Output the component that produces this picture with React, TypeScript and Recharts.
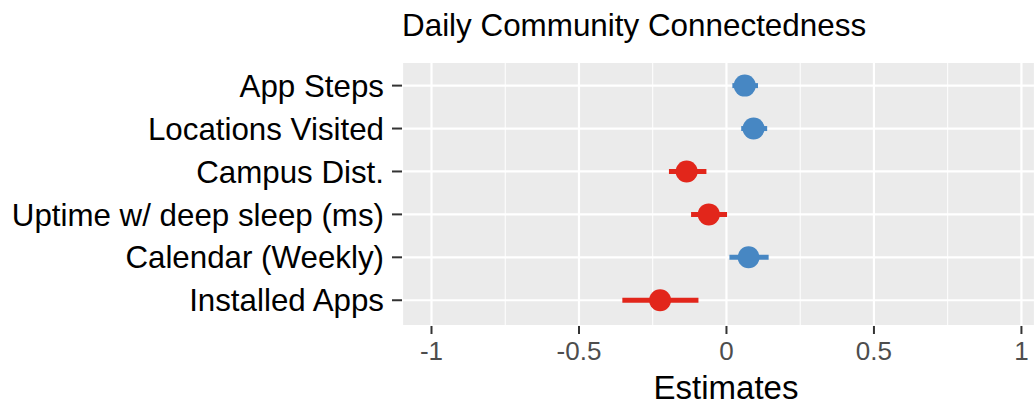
import { ScatterChart, Scatter, XAxis, YAxis, CartesianGrid, ErrorBar } from 'recharts';

const categories = [
  'App Steps',
  'Locations Visited',
  'Campus Dist.',
  'Uptime w/ deep sleep (ms)',
  'Calendar (Weekly)',
  'Installed Apps',
];
const estimates = [0.062, 0.092, -0.135, -0.06, 0.075, -0.225];
const lower = [0.02, 0.05, -0.195, -0.12, 0.01, -0.353];
const upper = [0.107, 0.138, -0.068, 0.002, 0.143, -0.095];

const majorTicks = [-1, -0.5, 0, 0.5, 1];
const minorTicks = [-0.75, -0.25, 0.25, 0.75];

const RED = '#e2261b';
const BLUE = '#4787c3';
const FONT = '"Liberation Sans", Arial, Helvetica, sans-serif';

const rows = categories.map((name, i) => ({
  name,
  x: estimates[i],
  y: i,
  err: [estimates[i] - lower[i], upper[i] - estimates[i]],
}));
const positive = rows.filter((r) => r.x >= 0);
const negative = rows.filter((r) => r.x < 0);

const dot = (color: string) => (props: any) => (
  <circle cx={props.cx} cy={props.cy} r={11} fill={color} />
);

export default function App() {
  return (
    <div style={{ position: 'absolute', left: 0, top: 0, width: 1035, height: 407, fontFamily: FONT, background: '#fff' }}>
      <div style={{ position: 'absolute', left: 402, top: 8, fontSize: 31.4, lineHeight: '36px', color: '#000' }}>
        Daily Community Connectedness
      </div>
      <ScatterChart width={1035} height={407} margin={{ top: 62, right: 0, bottom: 0, left: 0 }}>
        <CartesianGrid xAxisId="minor" horizontal={false} stroke="#ffffff" strokeWidth={1} fill="#ebebeb" />
        <CartesianGrid stroke="#ffffff" strokeWidth={2.2} />
        <XAxis
          xAxisId="minor"
          type="number"
          dataKey="x"
          hide
          domain={[-1.1, 1.046]}
          ticks={minorTicks}
          allowDataOverflow
        />
        <XAxis
          type="number"
          dataKey="x"
          domain={[-1.1, 1.046]}
          ticks={majorTicks}
          allowDataOverflow
          height={81}
          axisLine={false}
          tickSize={8}
          tickMargin={8}
          tickLine={{ stroke: '#333', strokeWidth: 2 }}
          tick={{ fill: '#4d4d4d', fontSize: 26, fontFamily: FONT }}
          tickFormatter={(v: number) => String(v)}
        />
        <YAxis
          type="number"
          dataKey="y"
          domain={[-0.55, 5.6]}
          reversed
          allowDataOverflow
          ticks={categories.map((_, i) => i)}
          interval={0}
          width={402}
          axisLine={false}
          tickSize={10}
          tickMargin={8}
          tickLine={{ stroke: '#333', strokeWidth: 2 }}
          tick={{ fill: '#000', fontSize: 31.3, fontFamily: FONT }}
          tickFormatter={(i: number) => categories[i]}
        />
        <Scatter data={positive} fill={BLUE} shape={dot(BLUE)} isAnimationActive={false}>
          <ErrorBar dataKey="err" direction="x" width={0} stroke={BLUE} strokeWidth={5} />
        </Scatter>
        <Scatter data={negative} fill={RED} shape={dot(RED)} isAnimationActive={false}>
          <ErrorBar dataKey="err" direction="x" width={0} stroke={RED} strokeWidth={5} />
        </Scatter>
      </ScatterChart>
      <div style={{ position: 'absolute', left: 626, width: 200, top: 370, textAlign: 'center', fontSize: 33, lineHeight: '36px', color: '#000' }}>
        Estimates
      </div>
    </div>
  );
}
